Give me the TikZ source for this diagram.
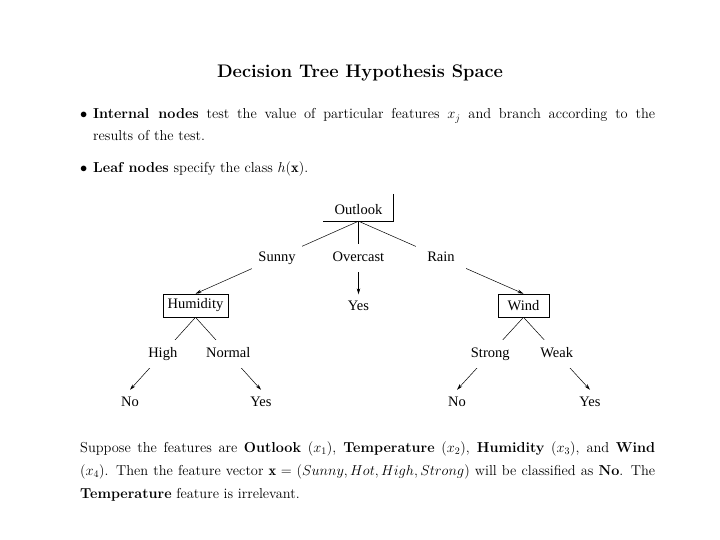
\documentclass[tikz,border=0pt]{standalone}
\usepackage{fontspec}
\newfontfamily\treefont{Liberation Serif}
\usetikzlibrary{arrows.meta}
\begin{document}
\begin{tikzpicture}[x=1pt,y=-1pt,
  tree/.style={font={\treefont\fontsize{14.5}{17}\selectfont}},
  inbox/.style={tree, draw, line width=0.6pt, inner sep=0pt, minimum height=23pt},
  lbl/.style={tree, fill=white, inner sep=0pt, minimum width=50pt, minimum height=28pt, text height=8pt, text depth=0pt},
  leaf/.style={tree, inner xsep=1pt, inner ysep=6pt, text height=10pt, text depth=0pt},
  edge/.style={line width=0.5pt},
  arr/.style={edge, -{Stealth[length=6pt,width=3.5pt]}},
  para/.style={anchor=base west, inner sep=0pt}
]
\useasboundingbox (0,0) rectangle (720,540);
% texts
\node[anchor=base, inner sep=0pt, font={\fontsize{18.2}{22}\selectfont\bfseries}] (title) at (360,78) {Decision Tree Hypothesis Space};
\node[para] (b1) at (80,119) {\parbox[t]{575pt}{\fontsize{14.4}{22}\selectfont\hangindent=13pt\hangafter=1\noindent\makebox[13pt][l]{$\bullet$}\textbf{Internal nodes} test the value of particular features $x_j$ and branch according to the\linebreak results of the test.}};
\node[para] (b2) at (80,173) {\parbox[t]{575pt}{\fontsize{14.4}{22}\selectfont\noindent\makebox[13pt][l]{$\bullet$}\textbf{Leaf nodes} specify the class $h(\mathbf{x})$.}};
\node[para] (p) at (80,452) {\parbox[t]{575pt}{\fontsize{14.4}{23}\selectfont\noindent Suppose the features are \textbf{Outlook} ($x_1$), \textbf{Temperature} ($x_2$), \textbf{Humidity} ($x_3$), and \textbf{Wind}\linebreak ($x_4$). Then the feature vector $\mathbf{x} = (Sunny, Hot, High, Strong)$ will be classified as \textbf{No}. The\linebreak \textbf{Temperature} feature is irrelevant.}};
% tree
\node[minimum width=70pt, minimum height=27pt, inner sep=0pt, label={[tree,yshift=-2.5pt]center:Outlook}] (outlook) at (358.5,207.5) {};
\draw[edge] (outlook.north east) -- (outlook.south east) -- (outlook.south west);
\node[inbox, minimum width=65pt] (humid) at (195.5,305.5) {Humidity};
\node[inbox, minimum width=51pt] (wind) at (523.5,305.5) {Wind};
\node[leaf] (yes1) at (358.5,305.5) {Yes};
\node[leaf] (no1) at (130,401) {No};
\node[leaf] (yes2) at (261,401) {Yes};
\node[leaf] (no2) at (457,401) {No};
\node[leaf] (yes3) at (590,401) {Yes};
\draw[arr] (outlook.south) -- node[lbl]{Sunny} (humid.north);
\draw[arr] (outlook.south) -- node[lbl]{Overcast} (yes1.north);
\draw[arr] (outlook.south) -- node[lbl]{Rain} (wind.north);
\draw[arr] (humid.south) -- node[lbl]{High} (no1.north);
\draw[arr] (humid.south) -- node[lbl]{Normal} (yes2.north);
\draw[arr] (wind.south) -- node[lbl]{Strong} (no2.north);
\draw[arr] (wind.south) -- node[lbl]{Weak} (yes3.north);
\end{tikzpicture}
\end{document}
